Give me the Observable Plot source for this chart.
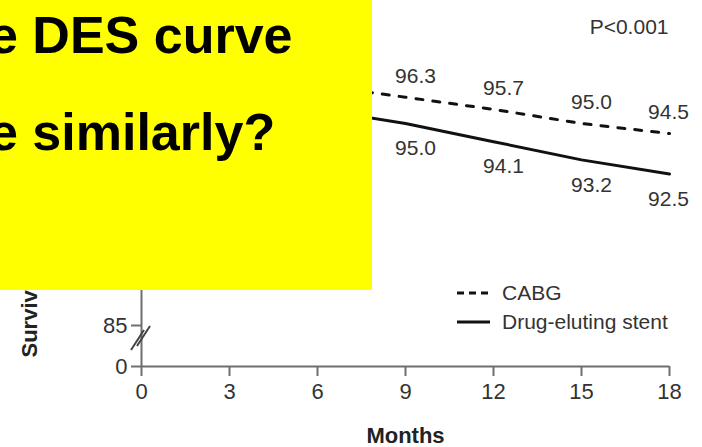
<!DOCTYPE html>
<html>
<head>
<meta charset="utf-8">
<script src="https://cdn.jsdelivr.net/npm/d3@7"></script>
<script src="https://cdn.jsdelivr.net/npm/@observablehq/plot@0.6"></script>
<style>
  html, body { margin: 0; padding: 0; background: #fff; }
  #wrap { position: relative; width: 702px; height: 447px; overflow: hidden; }
  #wrap svg { display: block; }
  #callout {
    position: absolute; left: 0; top: 0; width: 372px; height: 290px;
    background: #ffff00; overflow: hidden;
    font-family: "Liberation Sans", Arial, sans-serif; font-weight: bold;
    font-size: 52px; line-height: 1; color: #000;
  }
  #callout div { position: absolute; left: -11px; white-space: nowrap; }
  #legend {
    position: absolute; left: 457px; top: 281px;
    font-family: "Liberation Sans", Arial, sans-serif; font-size: 21px; color: #333;
  }
  #legend .row { display: flex; align-items: center; height: 24px; margin-bottom: 5px; }
  #legend svg { margin-right: 12px; }
</style>
</head>
<body>
<div id="wrap">
  <div id="chart"></div>
  <div id="legend"></div>
  <div id="callout">
    <div style="top:9px">e DES curve</div>
    <div style="top:106px">e similarly?</div>
  </div>
</div>
<script>
// Kaplan–Meier survival (%) by month
const months = [0, 3, 6, 9, 12, 15, 18];
const cabgSurvival = [100, 97.6, 96.9, 96.3, 95.7, 95.0, 94.5];
const desSurvival  = [100, 96.6, 95.7, 95.0, 94.1, 93.2, 92.5];
const labeledMonths = [9, 12, 15, 18];
const xTicks = [0, 3, 6, 9, 12, 15, 18];
const yTicks = [0, 85];
const seriesNames = ["CABG", "Drug-eluting stent"];
const pValueText = "P<0.001";

const cabg = months.map((m, i) => ({month: m, value: cabgSurvival[i]}));
const des = months.map((m, i) => ({month: m, value: desSurvival[i]}));
const isLabeled = d => labeledMonths.includes(d.month);
const lastMonth = d3.max(months);

const axisGray = "#6f6f6f";
const textGray = "#333";
const sans = "Liberation Sans, Arial, sans-serif";

// Broken-axis marker (two parallel slashes) between 0 and 85 on the y axis
function axisBreak(index, {x, y}) {
  const cx = x(0), cy = y(85) + 13;
  const g = d3.create("svg:g")
    .attr("stroke", "#444").attr("stroke-width", 2).attr("fill", "none");
  for (const [ox, oy] of [[-3, 2], [3, -2]]) {
    g.append("line")
      .attr("x1", cx - 7 + ox).attr("y1", cy + 10 + oy)
      .attr("x2", cx + 6 + ox).attr("y2", cy - 10 + oy);
  }
  return g.node();
}

const chart = Plot.plot({
  width: 702,
  height: 447,
  marginLeft: 141,
  marginRight: 33,
  marginTop: 22,
  marginBottom: 81,
  x: {domain: [0, 18], range: [141, 669]},
  y: {type: "linear", domain: [0, 85, 100], range: [366, 325, 22]},
  style: {fontFamily: sans, fontSize: "21px", color: textGray, background: "transparent"},
  marks: [
    Plot.ruleY([0], {stroke: axisGray, strokeWidth: 2}),
    Plot.ruleX([0], {stroke: axisGray, strokeWidth: 2}),
    axisBreak,
    Plot.axisX({
      ticks: xTicks, tickSize: 10, tickPadding: 7, label: null,
      stroke: axisGray, strokeWidth: 2, fill: textGray, fontSize: 22
    }),
    Plot.axisY({
      ticks: yTicks, tickSize: 10, tickPadding: 4, label: null,
      stroke: axisGray, strokeWidth: 2, fill: textGray, fontSize: 22
    }),
    Plot.line(cabg, {x: "month", y: "value", stroke: "#111", strokeWidth: 3, strokeDasharray: "7,10"}),
    Plot.line(des, {x: "month", y: "value", stroke: "#111", strokeWidth: 3}),
    // value labels: above the CABG curve, below the stent curve
    Plot.text(cabg, {filter: d => isLabeled(d) && d.month < lastMonth, x: "month", y: "value",
      text: d => d.value.toFixed(1), dx: 10, dy: -21, fill: textGray, fontSize: 21}),
    Plot.text(cabg, {filter: d => d.month === lastMonth, x: "month", y: "value",
      text: d => d.value.toFixed(1), dx: -1, dy: -21, fill: textGray, fontSize: 21}),
    Plot.text(des, {filter: d => isLabeled(d) && d.month < lastMonth, x: "month", y: "value",
      text: d => d.value.toFixed(1), dx: 10, dy: 25, fill: textGray, fontSize: 21}),
    Plot.text(des, {filter: d => d.month === lastMonth, x: "month", y: "value",
      text: d => d.value.toFixed(1), dx: -1, dy: 25, fill: textGray, fontSize: 21}),
    Plot.text([pValueText], {frameAnchor: "top-right", textAnchor: "end", lineAnchor: "middle",
      dx: -1, dy: 5, fill: textGray, fontSize: 21}),
    Plot.text(["Months"], {frameAnchor: "bottom", lineAnchor: "middle", dy: 69,
      fontWeight: "bold", fontSize: 22, fill: "#222"}),
    Plot.text(["Survival (%)"], {frameAnchor: "bottom-left", rotate: -90, textAnchor: "start",
      lineAnchor: "middle", dx: -112, dy: -9, fontWeight: "bold", fontSize: 22, fill: "#222"})
  ]
});
document.getElementById("chart").append(chart);

// Legend rows with line-style swatches
const legend = d3.select("#legend");
const dashes = ["7,5", null];
seriesNames.forEach((name, i) => {
  const row = legend.append("div").attr("class", "row");
  const sw = row.append("svg").attr("width", 33).attr("height", 6);
  sw.append("line").attr("x1", 0).attr("x2", 33).attr("y1", 3).attr("y2", 3)
    .attr("stroke", "#111").attr("stroke-width", 3)
    .attr("stroke-dasharray", dashes[i]);
  row.append("span").text(name);
});
</script>
</body>
</html>
